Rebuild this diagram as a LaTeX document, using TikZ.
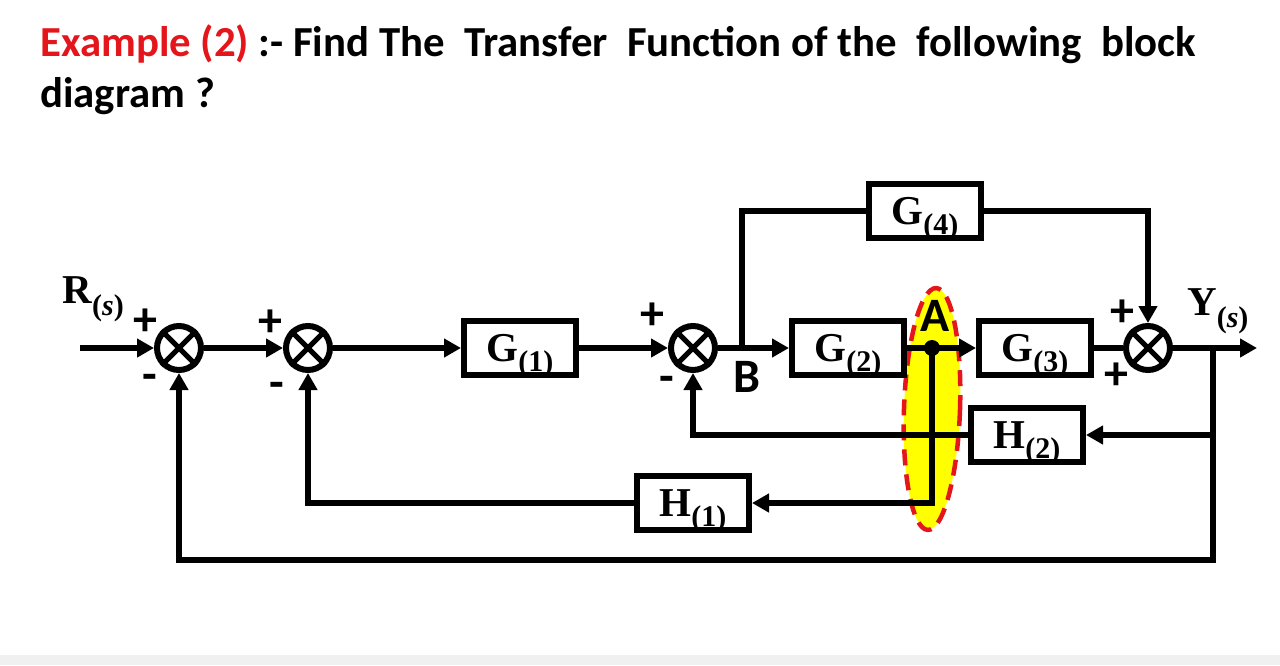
\documentclass[tikz,border=0pt]{standalone}
\usepackage{fontspec}
\setmainfont{Liberation Serif}
\newfontfamily\titlefont{Carlito}
\usetikzlibrary{arrows.meta}

\definecolor{exred}{RGB}{228,22,28}
\definecolor{hiyellow}{RGB}{255,255,0}
\definecolor{barbg}{RGB}{240,240,240}

% block label with a lowered index
\newcommand{\blk}[2]{\textbf{#1}\smash{\raisebox{-10pt}{\fontsize{30}{30}\selectfont\textbf{(#2)}}}}
\newcommand{\sgl}[2]{\textbf{#1}\smash{\raisebox{-12pt}{\fontsize{30}{30}\selectfont\textbf{(\textit{#2})}}}}

\tikzset{
  blkbox/.style={draw, line width=6pt, minimum width=112pt, minimum height=54pt, inner sep=0pt, font=\fontsize{41}{44}\selectfont},
  sumj/.style={draw, circle, line width=6pt, minimum size=44pt, inner sep=0pt},
  sgn/.style={inner sep=0pt, font=\titlefont\bfseries\fontsize{48}{48}\selectfont},
  wire/.style={line width=5.5pt},
  hilite/.style={fill=hiyellow, draw=exred, line width=4.5pt, dash pattern=on 16pt off 9pt},
  >={Triangle[length=17pt,width=18pt]},
}

\begin{document}
\begin{tikzpicture}[x=1pt,y=-1pt]
\useasboundingbox (0,0) rectangle (1280,665);
\fill[white] (0,0) rectangle (1280,665);
\fill[barbg] (0,655) rectangle (1280,665);

% title
\node[anchor=base west, inner sep=0pt, font=\titlefont\bfseries\fontsize{42.8}{50}\selectfont] (title1) at (40,56)
  {\textcolor{exred}{Example (2)} :- Find The\ \ Transfer\ \ Function of the\ \ following\ \ block};
\node[anchor=base west, inner sep=0pt, font=\titlefont\bfseries\fontsize{42.8}{50}\selectfont] (title2) at (40,107) {diagram ?};

% highlight round A
\draw[hilite, rotate around={-2:(932,409)}] (932,409) ellipse [x radius=28, y radius=121];

% blocks
\node[sumj] (s1) at (179,348) {};
\node[sumj] (s2) at (308,348) {};
\node[blkbox] (g1) at (520,348) {\blk{G}{1}};
\node[sumj] (s3) at (693,348) {};
\node[blkbox] (g2) at (848,348) {\blk{G}{2}};
\node[blkbox] (g4) at (925,211) {\blk{G}{4}};
\node[blkbox] (g3) at (1035,348) {\blk{G}{3}};
\node[sumj] (s4) at (1148,348) {};
\node[blkbox] (h2) at (1027,435) {\blk{H}{2}};
\node[blkbox] (h1) at (693,503) {\blk{H}{1}};

\foreach \s in {s1,s2,s3,s4}
  \draw[line width=5pt] (\s.45) -- (\s.225) (\s.135) -- (\s.315);

\coordinate (rin) at (80,348);
\coordinate (B) at (742,348);
\coordinate (A) at (932,348);
\coordinate (yo) at (1213,348);
\coordinate (yend) at (1257,348);
\coordinate (t2) at (1213,435);
\coordinate (bot) at (1213,560);

% forward path
\draw[wire,->] (rin) -- (s1);
\draw[wire,->] (s1) -- (s2);
\draw[wire,->] (s2) -- (g1);
\draw[wire,->] (g1) -- (s3);
\draw[wire,->] (s3) -- (g2);
\draw[wire,->] (g2) -- (g3);
\draw[wire] (g3) -- (s4);
\draw[wire,->] (s4) -- (yend);
\draw[wire] (B) |- (g4);
\draw[wire,->] (g4) -| (s4);

% feedback
\draw[wire,->] (t2) -- (h2);
\draw[wire,->] (h2) -| (s3);
\draw[wire,->] (A) |- (h1);
\draw[wire,->] (h1) -| (s2);
\draw[wire,->] (yo) -- (bot) -| (s1);
\fill (A) circle (8pt);

% labels
\node[anchor=base west, inner sep=0pt, font=\fontsize{41}{44}\selectfont] (rlab) at (62,303) {\sgl{R}{s}};
\node[anchor=base west, inner sep=0pt, font=\fontsize{41}{44}\selectfont] (ylab) at (1187,315) {\sgl{Y}{s}};
\node[sgn] (alab) at (935,316) {A};
\node[sgn] (blab) at (747,377) {B};

% signs
\node[sgn] (p1) at (145,322) {+};
\node[sgn] (m1) at (150,382) {-};
\node[sgn] (p2) at (270,323) {+};
\node[sgn] (m2) at (277,390) {-};
\node[sgn] (p3) at (652,316) {+};
\node[sgn] (m3) at (667,384) {-};
\node[sgn] (p4) at (1122,313) {+};
\node[sgn] (p5) at (1116,376) {+};
\end{tikzpicture}
\end{document}
